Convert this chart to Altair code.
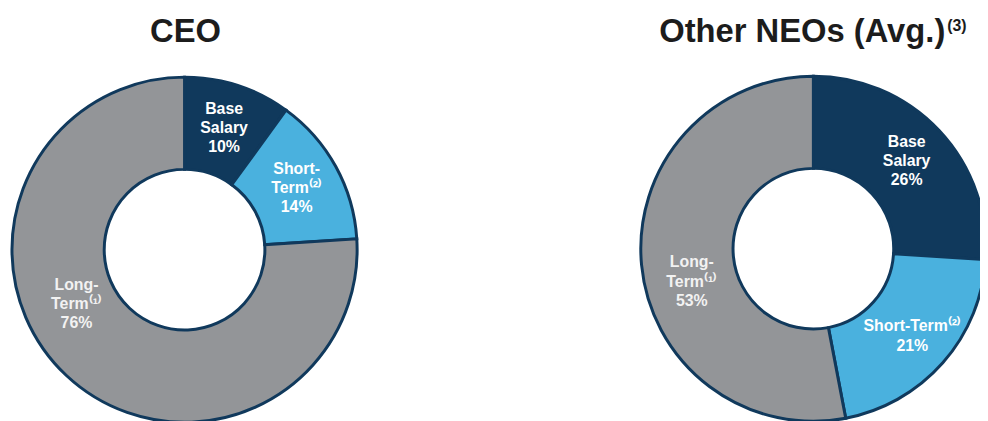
import altair as alt
import pandas as pd

# ---- data ----
titles = ["CEO", "Other NEOs (Avg.)"]
title_notes = ["", "(3)"]
components = ["Base Salary", "Short-Term", "Long-Term"]
ceo_values = [10, 14, 76]
neo_values = [26, 21, 53]
ceo_names = ["Base\nSalary", "Short-\nTerm⁽²⁾", "Long-\nTerm⁽¹⁾"]
neo_names = ["Base\nSalary", "Short-Term⁽²⁾", "Long-\nTerm⁽¹⁾"]

# ---- style ----
NAVY = "#10395c"
BLUE = "#4ab1de"
GRAY = "#939598"
OUTER_R = 174
INNER_R = 81
LABEL_R = 129
FONT = "Liberation Sans"
LFS = 16
LH = 19.5


def make_df(values, names):
    return pd.DataFrame({
        "component": components,
        "value": values,
        "idx": list(range(len(components))),
        "label": [f"{n}\n{v}%" for n, v in zip(names, values)],
    })


color_scale = alt.Scale(domain=components, range=[NAVY, BLUE, GRAY])


def text_layer(base, cond, cx, cy, **mk):
    return base.transform_calculate(
        t=f"({cond}) ? datum.label : ''"
    ).mark_text(
        font=FONT, fontSize=LFS, fontWeight="bold", lineBreak="\n", lineHeight=LH,
        align="center", baseline="middle", **mk
    ).encode(
        theta=alt.Theta("value:Q", stack=True),
        order=alt.Order("idx:Q"),
        text="t:N",
        x=alt.value(cx),
        y=alt.value(cy),
    )


def donut(df, cx, cy, long_offset, long_r):
    base = alt.Chart(df)
    arc = base.mark_arc(radius=OUTER_R, radius2=INNER_R, stroke=NAVY, strokeWidth=3).encode(
        theta=alt.Theta("value:Q", stack=True),
        order=alt.Order("idx:Q"),
        color=alt.Color("component:N", scale=color_scale, legend=None),
        x=alt.value(cx),
        y=alt.value(cy),
    )
    nlines = "split(datum.label, '\\n').length"
    not_long = "datum.component != 'Long-Term'"
    t3 = text_layer(base, f"{not_long} && {nlines} == 3", cx, cy,
                    radius=LABEL_R, dy=-LH, color="white")
    t2 = text_layer(base, f"{not_long} && {nlines} == 2", cx, cy,
                    radius=LABEL_R + 4, dy=-LH / 2, color="white")
    tl = text_layer(base, "datum.component == 'Long-Term'", cx, cy,
                    radius=long_r, thetaOffset=long_offset, dy=-LH, color="#f2f2f2")
    return [arc, t3, t2, tl]


ceo_df = make_df(ceo_values, ceo_names)
neo_df = make_df(neo_values, neo_names)

title_df = pd.DataFrame({"title": titles, "note": title_notes})
TSTYLE = dict(font=FONT, fontWeight="bold", color="#1c1c1c", baseline="alphabetic")
title_ceo = alt.Chart(title_df).transform_filter(alt.datum.title == titles[0]).mark_text(
    fontSize=33, align="center", **TSTYLE
).encode(text="title:N", x=alt.value(179), y=alt.value(33))
title_neo = alt.Chart(title_df).transform_filter(alt.datum.title == titles[1]).mark_text(
    fontSize=33, align="right", **TSTYLE
).encode(text="title:N", x=alt.value(945), y=alt.value(33))
note_neo = alt.Chart(title_df).transform_filter(alt.datum.title == titles[1]).mark_text(
    fontSize=16, align="left", **TSTYLE
).encode(text="note:N", x=alt.value(947), y=alt.value(21))

layers = (donut(ceo_df, 178, 242, 0.35, 122)
          + donut(neo_df, 812, 241, -0.17, 127)
          + [title_ceo, title_neo, note_neo])

chart = alt.layer(*layers).properties(
    width=980, height=413, padding=0, autosize=alt.AutoSizeParams(type="none")
).configure_view(stroke=None)

chart.save("out.html", embed_options={"renderer": "svg", "actions": False})
